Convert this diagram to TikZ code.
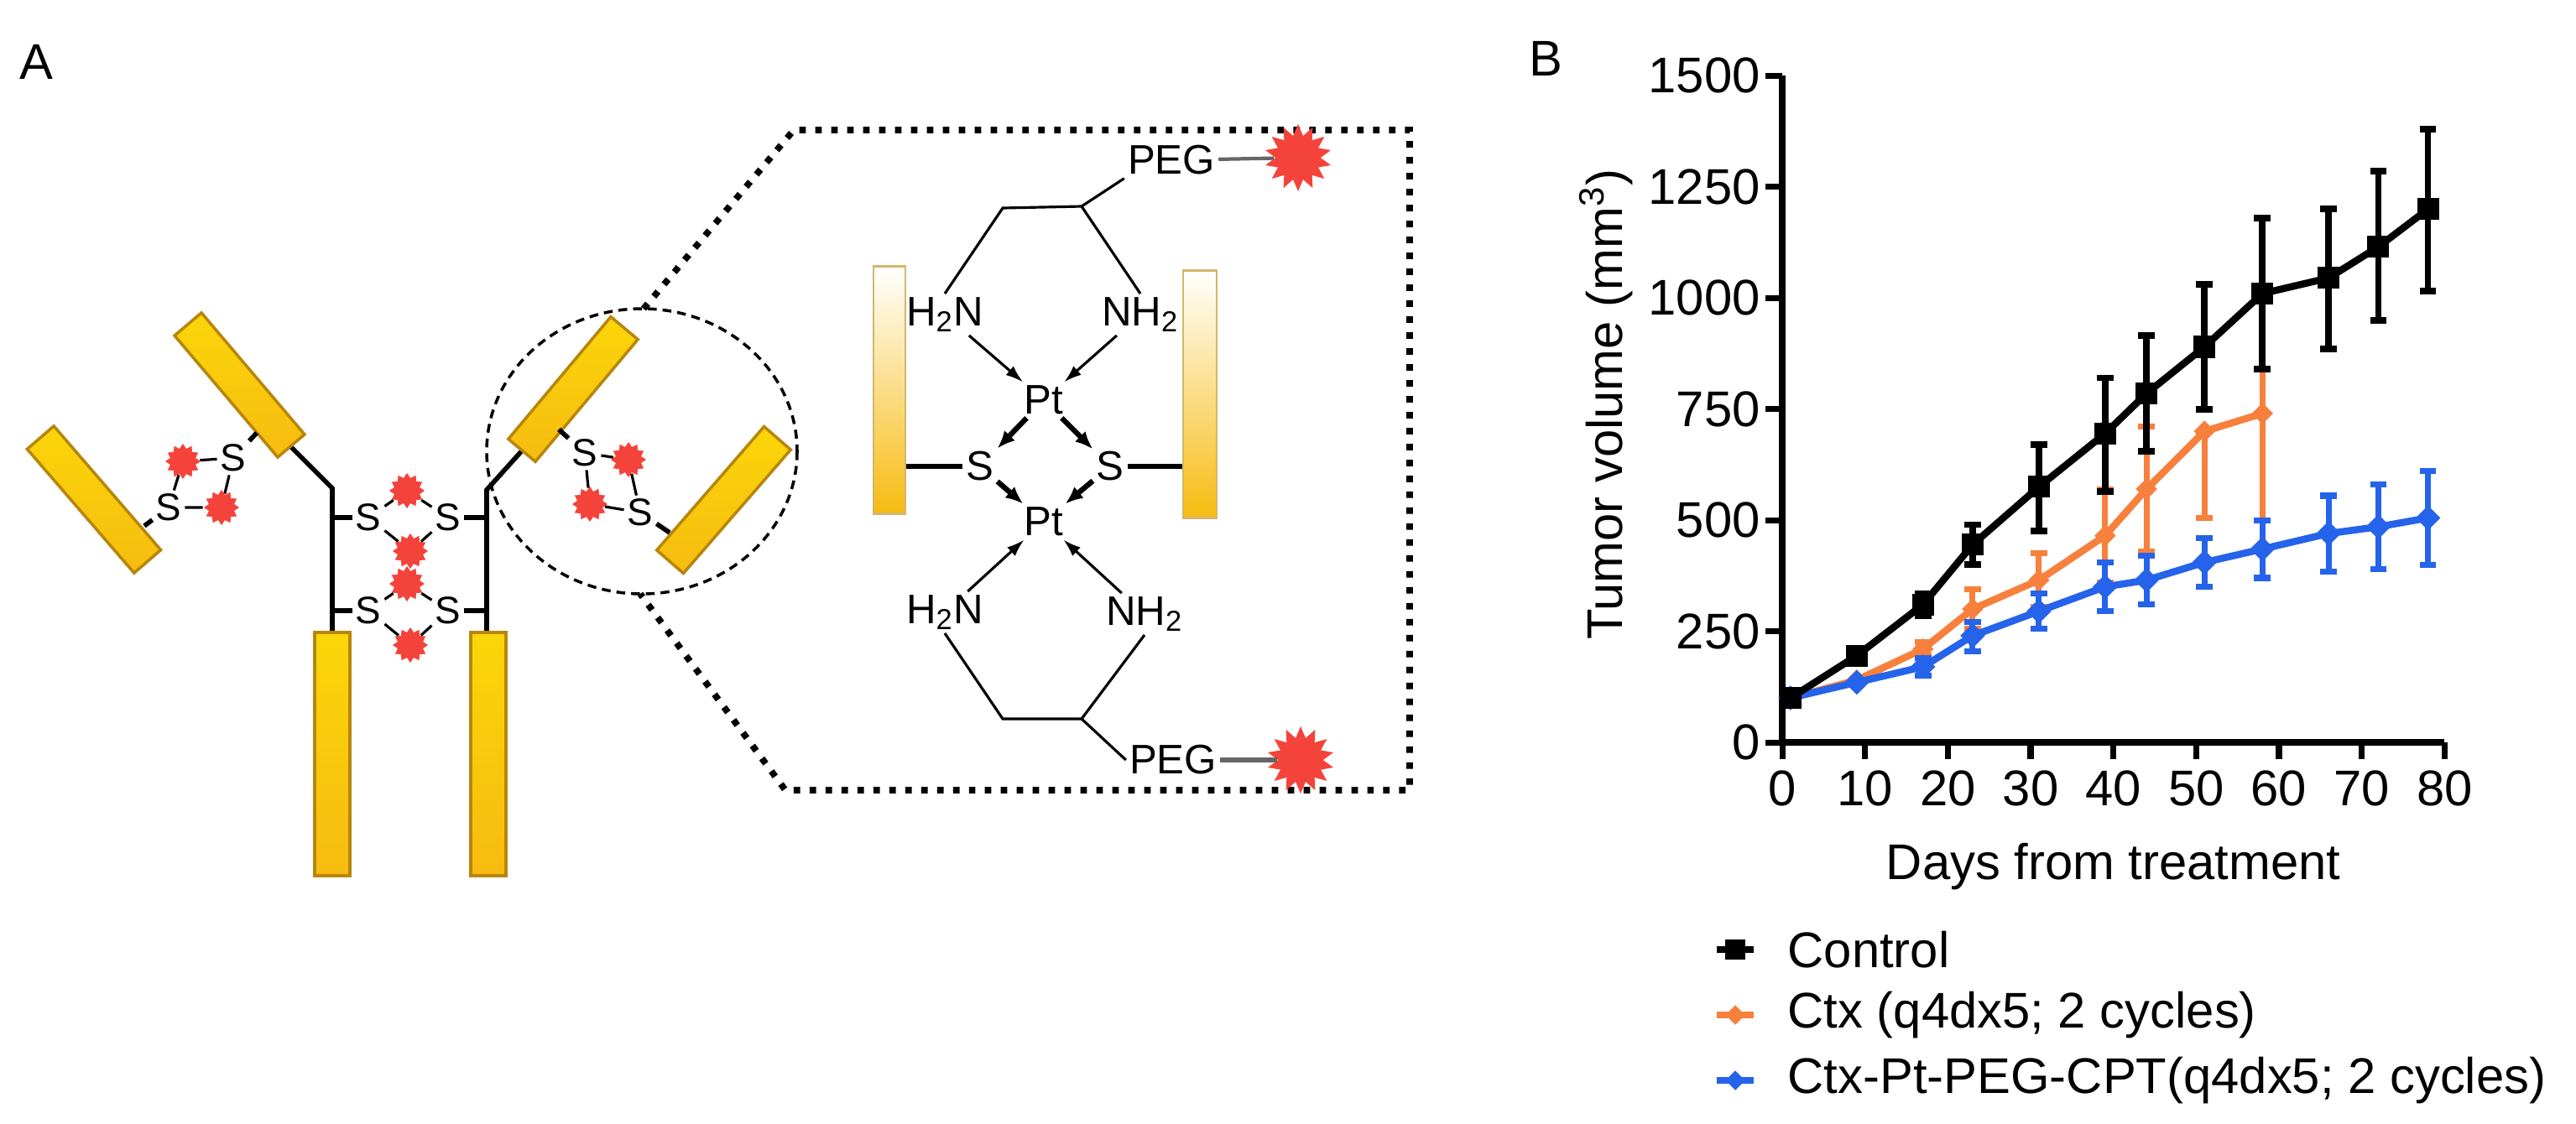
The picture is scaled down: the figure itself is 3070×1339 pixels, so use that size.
\documentclass[tikz,border=0pt]{standalone}
\usepackage{fontspec}
\setmainfont{Liberation Sans}
\usetikzlibrary{shapes.geometric,arrows.meta}
\definecolor{gold}{HTML}{F7BB10}
\definecolor{goldedge}{HTML}{B8860B}
\definecolor{starred}{HTML}{F4433A}
\definecolor{ctxor}{HTML}{F7803C}
\definecolor{ptblue}{HTML}{2563EB}
\tikzset{
  bar/.style={rectangle, draw=goldedge, line width=1pt, top color=gold!60!yellow, bottom color=gold, minimum height=0.42cm, inner sep=0pt},
  fadebar/.style={rectangle, draw=goldedge!60, line width=0.8pt, top color=white, bottom color=gold, inner sep=0pt, minimum width=0.38cm},
  dot/.style={star, star points=12, star point ratio=1.35, fill=starred, draw=none, minimum size=0.42cm, inner sep=0pt},
  bigstar/.style={star, star points=14, star point ratio=1.5, fill=starred, draw=none, minimum size=0.8cm, inner sep=0pt},
  sl/.style={font=\fontsize{13}{14}\selectfont, inner sep=1pt},
  chem/.style={font=\fontsize{14}{16}\selectfont, inner sep=1pt},
  bond/.style={line width=1.6pt, black},
  thin/.style={line width=0.9pt, black},
  dots/.style={line width=2.2pt, dash pattern=on 2.2pt off 3.2pt},
  lab/.style={font=\fontsize{17}{20}\selectfont},
}
\begin{document}
\begin{tikzpicture}[x=0.01cm,y=-0.01cm]
\useasboundingbox (0,0) rectangle (3070,1339);
\node[font=\fontsize{17}{20}\selectfont] (A) at (43,74) {A};
\node[font=\fontsize{17}{20}\selectfont] (B) at (1842,70) {B};

% ---------- antibody ----------
\draw[bond] (344,530) -- (396,582) -- (396,760);
\draw[bond] (625,534) -- (580,584) -- (580,760);
\path (52,526) -- (172,665) node[midway, sloped, bar, minimum width=1.95cm] (L1) {};
\path (227,390) -- (344,528) node[midway, sloped, bar, minimum width=1.9cm] (H1) {};
\path (626,532) -- (740,396) node[midway, sloped, bar, minimum width=1.9cm] (H2) {};
\path (800,668) -- (925,524) node[midway, sloped, bar, minimum width=1.95cm] (L2) {};
\node[bar, minimum height=2.9cm, minimum width=0.42cm, anchor=north] (F1) at (396,752) {};
\node[bar, minimum height=2.9cm, minimum width=0.42cm, anchor=north] (F2) at (582,752) {};

% interchain disulfides
\foreach \r/\yy/\ya/\yb in {1/617/585/657, 2/728/696/769}{
  \node[sl] (sl\r) at (439,\yy) {S};
  \node[sl] (sr\r) at (534,\yy) {S};
  \node[dot] (dt\r) at (485,\ya) {};
  \node[dot] (db\r) at (489,\yb) {};
  \draw[bond] (396,\yy) -- (sl\r);
  \draw[bond] (sr\r) -- (580,\yy);
  \draw[thin] (sl\r) -- (dt\r) -- (sr\r) -- (db\r) -- (sl\r);
}
% left light-heavy disulfide
\node[sl] (lsu) at (278,546) {S};
\node[sl] (lsl) at (201,605) {S};
\node[dot] (ldl) at (218,550) {};
\node[dot] (ldr) at (264,605) {};
\draw[bond] (306,516) -- (lsu);
\draw[bond] (lsl) -- (172,627);
\draw[thin] (lsu) -- (ldl) -- (lsl) -- (ldr) -- (lsu);
% right light-heavy disulfide
\node[sl] (rsu) at (697,540) {S};
\node[sl] (rsl) at (763,611) {S};
\node[dot] (rdr) at (749,548) {};
\node[dot] (rdl) at (703,601) {};
\draw[bond] (666,512) -- (rsu);
\draw[bond] (rsl) -- (798,635);
\draw[thin] (rsu) -- (rdr) -- (rsl) -- (rdl) -- (rsu);

% zoom circle and box
\draw[line width=1pt, dash pattern=on 3pt off 2pt] (765,538) ellipse (185 and 170);
\coordinate (ct) at (767,368);
\coordinate (cb) at (763,708);
\coordinate (b1) at (946,155);
\coordinate (b2) at (1680,155);
\coordinate (b3) at (1680,942);
\coordinate (b4) at (936,942);
\draw[dots] (ct) -- (b1) -- (b2) -- (b3) -- (b4) -- (cb);

% ---------- Pt complex ----------
\node[fadebar, minimum height=2.95cm, anchor=north] (lb) at (1060,316) {};
\node[fadebar, minimum height=2.95cm, anchor=north, minimum width=0.4cm] (rb) at (1430,321) {};
\node[chem] (pt1) at (1244,477) {Pt};
\node[chem] (pt2) at (1244,622) {Pt};
\node[chem] (s1) at (1168,556) {S};
\node[chem] (s2) at (1323,556) {S};
\node[chem] (n1) at (1126,375) {H\textsubscript{2}N};
\node[chem] (n2) at (1359,375) {NH\textsubscript{2}};
\node[chem] (n3) at (1126,730) {H\textsubscript{2}N};
\node[chem] (n4) at (1364,732) {NH\textsubscript{2}};
\node[chem] (peg1) at (1396,191) {PEG};
\node[chem] (peg2) at (1398,906) {PEG};
\node[bigstar] (st1) at (1547,188) {};
\node[bigstar] (st2) at (1550,906) {};
\draw[line width=1.2pt, black!60] (peg1) -- (st1);
\draw[line width=1.6pt, black!60] (peg2) -- (st2);
\draw[bond] (lb.east |- s1) -- (s1);
\draw[bond] (s2) -- (rb.west |- s2);
\draw[line width=1.8pt, -{Latex[length=6pt,width=5pt]}] (pt1) -- (s1);
\draw[line width=1.8pt, -{Latex[length=6pt,width=5pt]}] (pt1) -- (s2);
\draw[line width=1.8pt, -{Latex[length=6pt,width=5pt]}] (s1) -- (pt2);
\draw[line width=1.8pt, -{Latex[length=6pt,width=5pt]}] (s2) -- (pt2);
\draw[thin, -{Latex[length=6pt,width=4pt]}] (n1) -- (pt1);
\draw[thin, -{Latex[length=6pt,width=4pt]}] (n2) -- (pt1);
\draw[thin, -{Latex[length=6pt,width=4pt]}] (n3) -- (pt2);
\draw[thin, -{Latex[length=6pt,width=4pt]}] (n4) -- (pt2);
\coordinate (c1) at (1195,248); \coordinate (c2) at (1289,246);
\coordinate (c3) at (1195,857); \coordinate (c4) at (1289,857);
\draw[thin] (n1.north) -- (c1) -- (c2) -- (n2.north);
\draw[thin] (c2) -- (peg1.south west);
\draw[thin] (n3.south) -- (c3) -- (c4) -- (n4.south);
\draw[thin] (c4) -- (peg2.west);

% ---------- chart ----------
\begin{scope}[shift={(2124,885)}]
\begin{scope}[x=0.0986cm, y=0.005293cm]
\draw[line width=2.2pt] (0,1500) -- (0,0) -- (80,0);
\foreach \v in {0,250,...,1500}{
  \draw[line width=2pt] (0,\v) -- (-2,\v);
  \node[lab, anchor=east, inner sep=0pt] at (-2.6,\v) {\v};
}
\foreach \d in {0,10,...,80}{
  \draw[line width=2pt] (\d,0) -- (\d,-38);
  \node[lab, anchor=north, inner sep=0pt] at (\d,-62) {\d};
}
\node[lab, rotate=90] (ylab) at (-21.3,760) {Tumor volume (mm\textsuperscript{3})};
\node[lab] (xlab) at (40,-280) {Days from treatment};
% Ctx
\foreach \d/\lo/\hi in {17/195/225,23/255/345,31/305/425,39/360/570,44/430/710,51/505/700,58/500/840}{
  \draw[ctxor, line width=2pt] (\d,\lo) -- (\d,\hi) (\d-1,\lo) -- (\d+1,\lo) (\d-1,\hi) -- (\d+1,\hi);
}
\draw[ctxor, line width=2.4pt] plot coordinates {(1,100) (9,140) (17,210) (23,300) (31,365) (39,465) (44,570) (51,700) (58,740)};
\foreach \d/\v in {1/100,9/140,17/210,23/300,31/365,39/465,44/570,51/700,58/740}
  \node[diamond, fill=ctxor, minimum size=0.26cm, inner sep=0pt] at (\d,\v) {};
% Ctx-Pt-PEG-CPT
\foreach \d/\lo/\hi in {17/150/190,23/205/270,31/255/335,39/295/405,44/310/420,51/350/460,58/370/500,66/385/555,72/390/580,78/400/610}{
  \draw[ptblue, line width=2pt] (\d,\lo) -- (\d,\hi) (\d-1,\lo) -- (\d+1,\lo) (\d-1,\hi) -- (\d+1,\hi);
}
\draw[ptblue, line width=2.4pt] plot coordinates {(1,100) (9,135) (17,170) (23,240) (31,295) (39,350) (44,365) (51,405) (58,435) (66,470) (72,485) (78,505)};
\foreach \d/\v in {1/100,9/135,17/170,23/240,31/295,39/350,44/365,51/405,58/435,66/470,72/485,78/505}
  \node[diamond, fill=ptblue, minimum size=0.3cm, inner sep=0pt] at (\d,\v) {};
% Control
\foreach \d/\lo/\hi in {17/285/335,23/400/490,31/475/670,39/565/820,44/655/915,51/750/1030,58/840/1180,66/885/1200,72/950/1285,78/1015/1380}{
  \draw[black, line width=2.2pt] (\d,\lo) -- (\d,\hi) (\d-1,\lo) -- (\d+1,\lo) (\d-1,\hi) -- (\d+1,\hi);
}
\draw[black, line width=2.4pt] plot coordinates {(1,100) (9,195) (17,310) (23,445) (31,575) (39,695) (44,785) (51,890) (58,1010) (66,1045) (72,1115) (78,1200)};
\foreach \d/\v in {1/100,9/195,17/310,23/445,31/575,39/695,44/785,51/890,58/1010,66/1045,72/1115,78/1200}
  \node[rectangle, fill=black, minimum size=0.26cm, inner sep=0pt] at (\d,\v) {};
\end{scope}
\end{scope}

% legend
\foreach \yy/\c/\shape/\t [count=\i] in {1132/black/rectangle/Control, 1210/ctxor/diamond/{Ctx (q4dx5; 2 cycles)}, 1288/ptblue/diamond/{Ctx-Pt-PEG-CPT(q4dx5; 2 cycles)}}{
  \draw[\c, line width=2.4pt] (2046,\yy) -- (2090,\yy);
  \node[\shape, fill=\c, minimum size=0.24cm, inner sep=0pt] at (2068,\yy) {};
  \node[lab, anchor=west, inner sep=0pt] (leg\i) at (2130,\yy) {\t};
}
\end{tikzpicture}
\end{document}
